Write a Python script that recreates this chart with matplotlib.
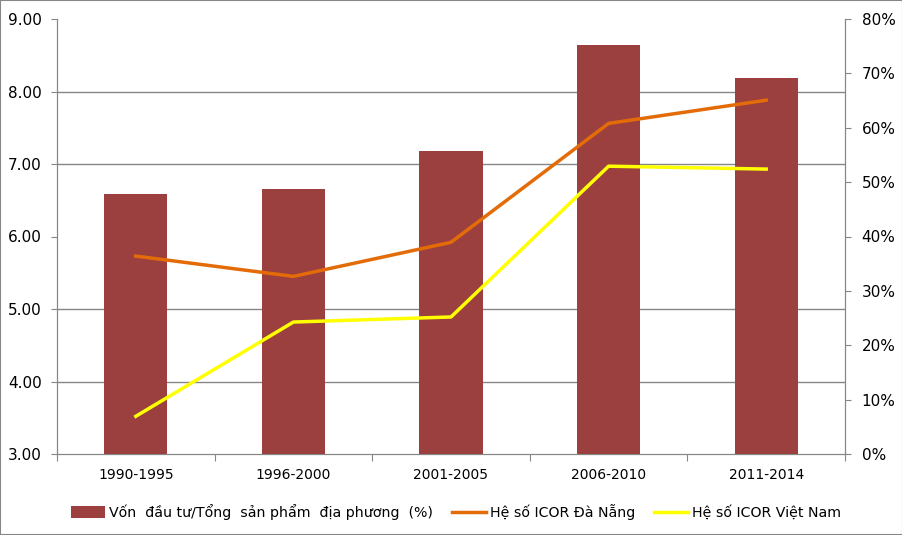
import numpy as np
import matplotlib.pyplot as plt
from matplotlib.patches import Rectangle
from matplotlib.ticker import FuncFormatter

# Data
periods = ["1990-1995", "1996-2000", "2001-2005", "2006-2010", "2011-2014"]
invest_share = [47.9, 48.7, 55.7, 75.2, 69.1]     # % (right axis)
icor_danang = [5.73, 5.45, 5.92, 7.56, 7.88]       # left axis
icor_vietnam = [3.52, 4.82, 4.89, 6.97, 6.93]      # left axis

left_ticks = [3, 4, 5, 6, 7, 8, 9]
right_ticks = [0, 10, 20, 30, 40, 50, 60, 70, 80]

BAR = "#9B403E"
ORANGE = "#E36C09"
YELLOW = "#FFFF00"
GREY = "#868686"

plt.rcParams["font.family"] = ["DejaVu Sans"]

fig = plt.figure(figsize=(9.03, 5.35), dpi=100)
fig.patches.append(Rectangle((0, 0), 1, 1, transform=fig.transFigure,
                             fill=False, edgecolor=GREY, linewidth=1.5))

pos = [57 / 903, 81 / 535, 788 / 903, 435 / 535]
ax_bar = fig.add_axes(pos)
ax = ax_bar.twinx()
ax.set_zorder(ax_bar.get_zorder() + 1)
ax.patch.set_visible(False)

x = np.arange(len(periods))

# Bars on the percentage axis (right)
ax_bar.bar(x, invest_share, width=0.4, color=BAR, zorder=3,
           label="Vốn  đầu tư/Tổng  sản phẩm  địa phương  (%)")
ax_bar.set_ylim(0, 80)
ax_bar.yaxis.tick_right()
ax_bar.set_yticks(right_ticks)
ax_bar.yaxis.set_major_formatter(FuncFormatter(lambda v, p: f"{v:.0f}%"))

# gridlines belong to the left scale, drawn behind bars
grid_pos = [(v - 3) / 6 * 80 for v in left_ticks]
ax_bar.set_yticks(grid_pos, minor=True)
ax_bar.grid(which="minor", axis="y", color=GREY, linewidth=1, zorder=0)
ax_bar.tick_params(axis="y", which="minor", length=0, right=False, left=False)

# Lines on the left axis
ax.plot(x, icor_danang, color=ORANGE, linewidth=2.5, label="Hệ số ICOR Đà Nẵng")
ax.plot(x, icor_vietnam, color=YELLOW, linewidth=2.5, label="Hệ số ICOR Việt Nam")
ax.set_ylim(3, 9)
ax.yaxis.tick_left()
ax.set_yticks(left_ticks)
ax.yaxis.set_major_formatter(FuncFormatter(lambda v, p: f"{v:.2f}"))

ax_bar.set_xlim(-0.5, len(periods) - 0.5)
ax_bar.set_xticks(np.arange(-0.5, len(periods)), labels=[""] * (len(periods) + 1))
ax_bar.set_xticks(x, labels=periods, minor=True)
ax_bar.tick_params(axis="x", which="major", length=5, color=GREY, direction="out")
ax_bar.tick_params(axis="x", which="minor", length=0, pad=10, labelsize=10)

ax.tick_params(axis="y", length=4, color=GREY, pad=7, labelsize=11)
ax_bar.tick_params(axis="y", which="major", length=4, color=GREY, pad=8, labelsize=11)

for a in (ax, ax_bar):
    for side in ("left", "right", "bottom"):
        a.spines[side].set_color(GREY)
    a.spines["top"].set_visible(False)

handles = ax_bar.get_legend_handles_labels()[0] + ax.get_legend_handles_labels()[0]
labels = ax_bar.get_legend_handles_labels()[1] + ax.get_legend_handles_labels()[1]
fig.legend(handles, labels, loc="center", bbox_to_anchor=(0.505, 23 / 535), ncol=3,
           frameon=False, fontsize=10.2, handlelength=2.4, handleheight=0.9,
           handletextpad=0.3, columnspacing=1.3)

fig.savefig("out.png", dpi=100)
